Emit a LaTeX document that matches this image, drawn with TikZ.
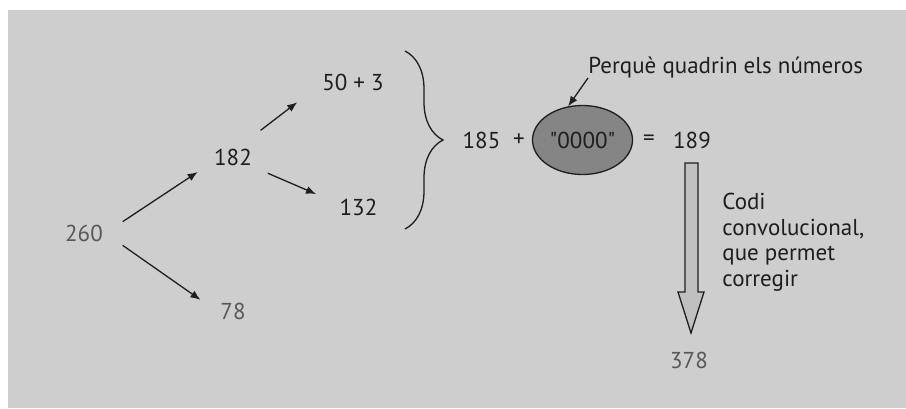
\documentclass[tikz,border=0pt]{standalone}
\usepackage{fontspec}
\setmainfont{PT Sans}
\usetikzlibrary{positioning,shapes.geometric,arrows.meta,decorations.pathreplacing}
\definecolor{panelgray}{RGB}{206,206,206}
\definecolor{ovalgray}{RGB}{133,133,133}
\definecolor{shaftgray}{RGB}{192,192,192}
\definecolor{softtext}{RGB}{88,88,88}
\definecolor{inktext}{RGB}{30,30,30}
\tikzstyle{num}=[circle, inner sep=0pt, text=inktext, minimum size=38pt]
\tikzstyle{sign}=[inner sep=0pt, text=inktext]

\begin{document}
\begin{tikzpicture}[
        x=0.5pt, y=-0.5pt,
        font=\fontsize{11.5}{12.75}\selectfont,
        line/.style={->, >={Latex[length=5pt,width=4pt]}, line width=0.65pt, draw=inktext},
      ]
      \useasboundingbox (0,0) rectangle (906,408);
      \fill [panelgray] (8,10) rectangle (906,408);
      % splitting tree
      \node (N260) [num, text=softtext, minimum size=40pt] at (84,233.5) {260};
      \node (N182) [num] at (233,157) {182};
      \node (N78) [num, text=softtext, minimum size=34pt] at (233,311) {78};
      \node (N53) [num, minimum size=59pt] at (353,82) {50 + 3};
      \node (N132) [num, minimum size=44pt] at (358.5,207) {132};
      \draw [line] (N260.17) -- (N182.203);
      \draw [line] (N260.-17) -- (N78.161);
      \draw [line] (N182.44) -- (N53.200);
      \draw [line] (N182.-25) -- (N132.163);
      % brace
      \coordinate (BraceTop) at (405,51);
      \coordinate (BraceBot) at (405,229);
      \draw [inktext, line width=0.65pt, decorate, decoration={brace, amplitude=19pt}] (BraceTop) -- (BraceBot);
      % sum
      \node (N185) [sign] at (481.5,140) {185};
      \node (Plus) [sign] at (519,140) {+};
      \node (Oval) [ellipse, draw=inktext, fill=ovalgray, line width=0.65pt, inner sep=0pt,
                    minimum width=50pt, minimum height=34.5pt, text=inktext] at (582.5,140) {\textquotedbl 0000\textquotedbl};
      \node (Equals) [sign] at (649,140) {=};
      \node (N189) [sign] at (692,140) {189};
      \node (Note) [sign, anchor=base west] at (588,73) {Perquè quadrin els números};
      \draw [line] (Note.south west) -- (Oval.113);
      % convolutional code
      \draw [fill=shaftgray, draw=inktext, line width=0.65pt]
            (685,163) -- (698,163) -- (698,292) -- (704,292) -- (691,333) -- (678,292) -- (685,292) -- cycle;
      \node (Comment) [sign, anchor=west, align=left] at (722,242)
            {Codi\\convolucional,\\que permet\\corregir};
      \node (N378) [sign, text=softtext] at (689,360.5) {378};
    \end{tikzpicture}
\end{document}
